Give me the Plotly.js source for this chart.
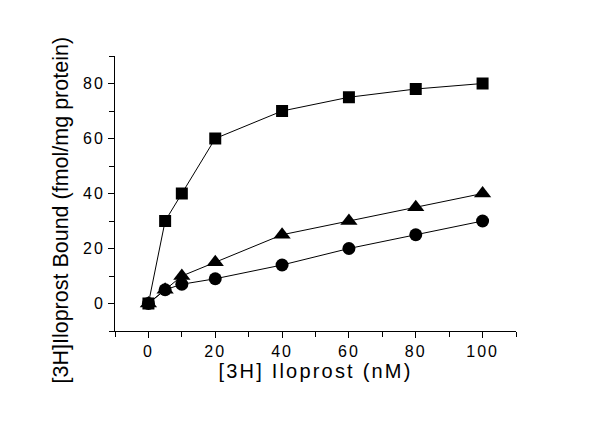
<!DOCTYPE html>
<html>
<head>
<meta charset="utf-8">
<script src="https://cdn.plot.ly/plotly-3.0.1.min.js"></script>
<style>
  html, body { margin: 0; padding: 0; background: #fff; }
  #chart { width: 600px; height: 427px; }
</style>
</head>
<body>
<div id="chart"></div>
<script>
// concentrations (nM)
const conc = [0, 5, 10, 20, 40, 60, 80, 100];
// bound (fmol/mg protein)
const totalBound = [0, 30, 40, 60, 70, 75, 78, 80];
const midBound = [0, 5, 10, 15, 25, 30, 35, 40];
const lowBound = [0, 5, 7, 9, 14, 20, 25, 30];

const xTicks = [0, 20, 40, 60, 80, 100];
const yTicks = [0, 20, 40, 60, 80];

const xTitle = "[3H] Iloprost (nM)";
const yTitle = "[3H]Iloprost Bound (fmol/mg protein)";

// wide letter spacing like the original figure
const spaced = (t, px) => `<span style="letter-spacing:${px}px">${t}</span>`;

function series(y, symbol, size) {
  return {
    x: conc,
    y: y,
    type: "scatter",
    mode: "lines+markers",
    line: { color: "#000", width: 1 },
    marker: { symbol: symbol, size: size, color: "#000" },
    showlegend: false,
    cliponaxis: false
  };
}

const traces = [
  series(totalBound, "square", 12),
  series(midBound, "triangle-up", 15),
  series(lowBound, "circle", 13)
];

const font = { family: "Liberation Sans, Arial, sans-serif", color: "#000" };

const axisBase = {
  ticks: "outside",
  ticklen: 6,
  tickwidth: 1,
  tickcolor: "#000",
  minor: { dtick: 10, ticks: "outside", ticklen: 5, tickcolor: "#000" },
  showline: true,
  linecolor: "#000",
  linewidth: 1,
  showgrid: false,
  zeroline: false,
  tickfont: { size: 16, family: font.family }
};

const layout = {
  width: 600,
  height: 427,
  margin: { l: 115, r: 84, t: 56, b: 96 },
  paper_bgcolor: "#fff",
  plot_bgcolor: "#fff",
  font: font,
  xaxis: Object.assign({}, axisBase, {
    range: [-10, 110],
    tickvals: xTicks,
    ticktext: xTicks.map(v => spaced(v, 2)),
    title: {
      text: spaced(xTitle, 2.2),
      font: { size: 20, family: font.family },
      standoff: 3
    }
  }),
  yaxis: Object.assign({}, axisBase, {
    range: [-10, 90],
    tickvals: yTicks,
    ticktext: yTicks.map(v => spaced(v, 2))
  }),
  annotations: [{
    text: yTitle,
    textangle: -90,
    xref: "paper", yref: "paper",
    x: 0, y: 0.5,
    xanchor: "center", yanchor: "middle",
    xshift: -55, yshift: -17,
    showarrow: false,
    font: { size: 21.5, family: font.family, color: "#000" }
  }]
};

Plotly.newPlot("chart", traces, layout, { staticPlot: true });
</script>
</body>
</html>
